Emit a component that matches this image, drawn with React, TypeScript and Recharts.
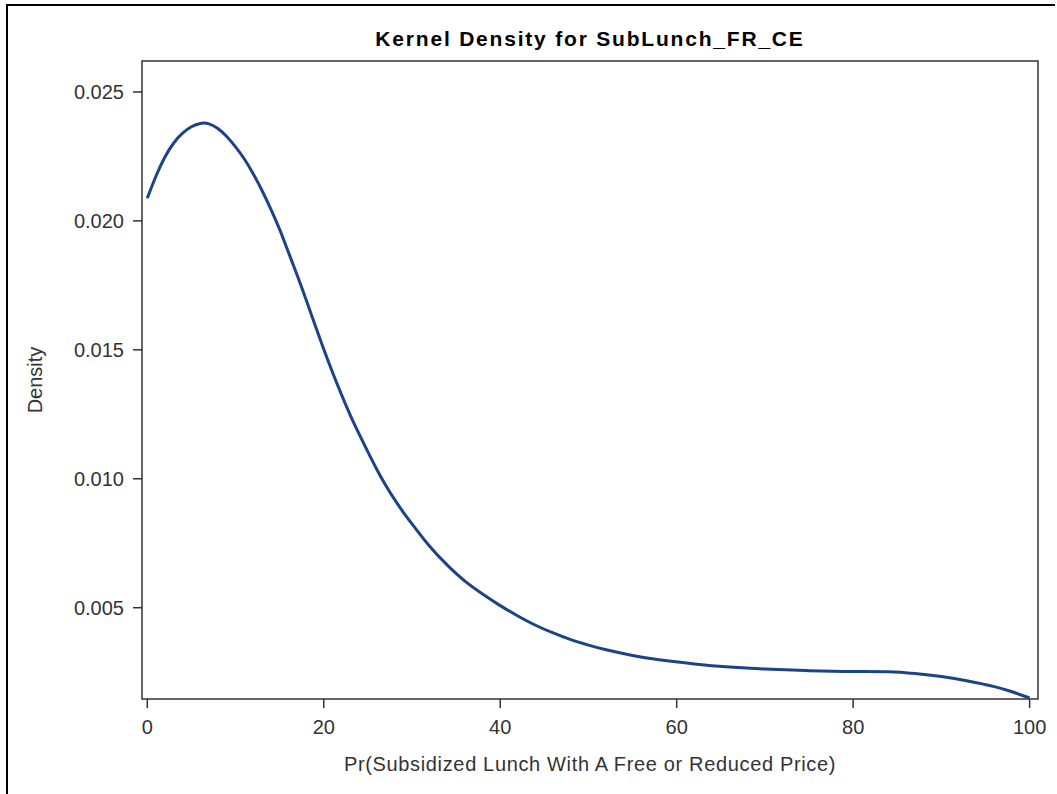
import { LineChart, Line, XAxis, YAxis, ReferenceArea } from "recharts";

const xValues = [
  0, 1, 2, 3, 4, 5, 6, 7, 8, 9, 10, 11, 12, 13, 14, 15, 16, 17, 18, 19, 20,
  21, 22, 23, 24, 25, 26, 27, 28, 29, 30, 32, 34, 36, 38, 40, 42, 44, 46, 48,
  50, 52, 55, 58, 62, 66, 70, 75, 80, 84, 87, 90, 93, 96, 98, 100,
];
const densityValues = [
  0.02088, 0.02175, 0.02248, 0.02302, 0.0234, 0.02365, 0.02378, 0.02376,
  0.02358, 0.02327, 0.02287, 0.0224, 0.02183, 0.02118, 0.02046, 0.01967,
  0.01878, 0.01788, 0.01694, 0.01597, 0.01502, 0.01412, 0.01327, 0.01247,
  0.01174, 0.01104, 0.01037, 0.00976, 0.00921, 0.00871, 0.00825, 0.00738,
  0.00665, 0.00603, 0.00553, 0.00508, 0.00468, 0.00432, 0.00402, 0.00376,
  0.00355, 0.00337, 0.00315, 0.00298, 0.00282, 0.0027, 0.00262, 0.00256,
  0.00253, 0.00252, 0.00245, 0.00233, 0.00216, 0.00194, 0.00174, 0.0015,
];
const xTicks = [0, 20, 40, 60, 80, 100];
const yTicks = [0.005, 0.01, 0.015, 0.02, 0.025];

const xDomain: [number, number] = [-0.6, 100.95];
const yDomain: [number, number] = [0.00146, 0.0262];

const data = xValues.map((x, i) => ({ x, density: densityValues[i] }));

const FONT = "'Liberation Sans', Arial, sans-serif";

export default function App() {
  return (
    <div
      style={{
        position: "absolute",
        left: 0,
        top: 0,
        width: 1057,
        height: 794,
        overflow: "hidden",
        background: "#fff",
        fontFamily: FONT,
      }}
    >
      <div
        style={{
          position: "absolute",
          left: 6,
          top: 4,
          width: 1047,
          height: 820,
          borderTop: "2px solid #000",
          borderLeft: "2px solid #000",
        }}
      />
      <div
        style={{
          position: "absolute",
          left: 590,
          top: 28,
          transform: "translateX(-50%)",
          fontSize: 21,
          lineHeight: "21px",
          fontWeight: "bold",
          letterSpacing: 1.8,
          whiteSpace: "nowrap",
          color: "#000",
        }}
      >
        Kernel Density for SubLunch_FR_CE
      </div>
      <LineChart
        width={1057}
        height={794}
        data={data}
        margin={{ top: 61, right: 19, bottom: 18, left: 0 }}
        style={{ position: "absolute", left: 0, top: 0 }}
      >
        <XAxis
          dataKey="x"
          type="number"
          domain={xDomain}
          allowDataOverflow
          ticks={xTicks}
          height={77}
          axisLine={false}
          tickSize={9}
          tickMargin={12}
          tickLine={{ stroke: "#333", strokeWidth: 1.5 }}
          tick={{ fontSize: 20, fill: "#333", fontFamily: FONT }}
          label={{
            value: "Pr(Subsidized Lunch With A Free or Reduced Price)",
            position: "insideBottom",
            offset: 5,
            style: { fontSize: 20, fill: "#333", letterSpacing: 0.65, fontFamily: FONT },
          }}
        />
        <YAxis
          type="number"
          domain={yDomain}
          allowDataOverflow
          ticks={yTicks}
          width={142}
          axisLine={false}
          tickSize={9}
          tickMargin={9}
          tickLine={{ stroke: "#333", strokeWidth: 1.5 }}
          tick={{ fontSize: 20, fill: "#333", fontFamily: FONT }}
          tickFormatter={(v: number) => v.toFixed(3)}
          label={{
            value: "Density",
            angle: -90,
            position: "insideLeft",
            offset: 34.5,
            style: { fontSize: 20, fill: "#333", textAnchor: "middle", fontFamily: FONT },
          }}
        />
        <ReferenceArea
          x1={xDomain[0]}
          x2={xDomain[1]}
          y1={yDomain[0]}
          y2={yDomain[1]}
          fill="none"
          fillOpacity={0}
          stroke="#333"
          strokeWidth={1.5}
        />
        <Line
          type="natural"
          dataKey="density"
          stroke="#1d4387"
          strokeWidth={3}
          dot={false}
          isAnimationActive={false}
        />
      </LineChart>
    </div>
  );
}
